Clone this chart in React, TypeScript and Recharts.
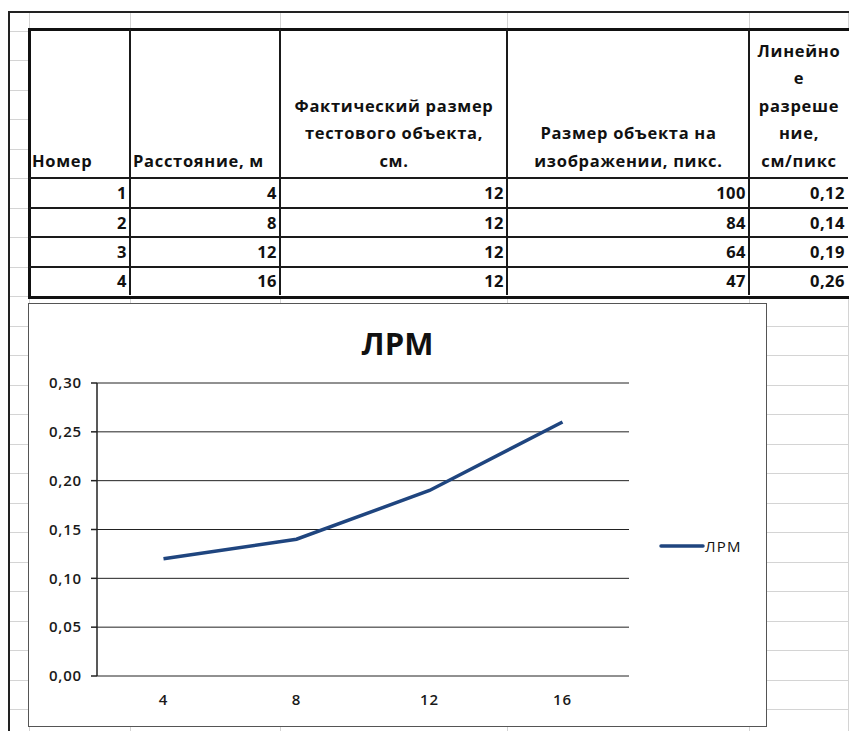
import React from 'react';
import { LineChart, Line, XAxis, YAxis, CartesianGrid, Legend } from 'recharts';

// table columns / rows
const numbers = [1, 2, 3, 4];
const distances = [4, 8, 12, 16];
const realSize = [12, 12, 12, 12];
const imageSize = [100, 84, 64, 47];
const resolution = [0.12, 0.14, 0.19, 0.26];

// chart axes
const yTicks = [0, 0.05, 0.1, 0.15, 0.2, 0.25, 0.3];
const xBounds = [2, 6, 10, 14, 18];
const seriesName = 'ЛРМ';

const chartData = distances.map((d, i) => ({ x: d, lrm: resolution[i] }));

const fmt = (v: number) => v.toFixed(2).replace('.', ',');

const FONT = '"Open Sans", "Noto Sans", sans-serif';
const LINE = '#1f457f';
const GRAY = '#d4d4d4';

const colX = [29, 130, 280, 507, 749, 848];
const rowY = [29, 178, 207.5, 237, 266.5, 295];

const headerLines: string[][] = [
  ['Номер'],
  ['Расстояние, м'],
  ['Фактический размер', 'тестового объекта,', 'см.'],
  ['Размер объекта на', 'изображении, пикс.'],
  ['Линейно', 'е', 'разреше', 'ние,', 'см/пикс'],
];

const SheetGrid = () => {
  const lines: React.ReactNode[] = [];
  // horizontal row lines of the sheet
  for (let k = -6; k < 19; k++) {
    const y = 178 + k * 29.5;
    if (y < 14 || y > 731) continue;
    lines.push(<div key={'h' + k} style={{ position: 'absolute', left: 9, top: y, width: 840, height: 1, background: GRAY }} />);
  }
  colX.forEach((x, i) => {
    lines.push(<div key={'v' + i} style={{ position: 'absolute', left: x, top: 12, width: 1, height: 719, background: GRAY }} />);
  });
  return <>{lines}</>;
};

const Table = () => {
  const cols = [numbers, distances, realSize, imageSize, resolution];
  const cells: React.ReactNode[] = [];
  headerLines.forEach((hl, c) => {
    const left = c < 2;
    cells.push(
      <div key={'hd' + c} style={{
        position: 'absolute', left: colX[c] + 3, top: rowY[0], width: colX[c + 1] - colX[c] - 5, height: rowY[1] - rowY[0] - 4,
        display: 'flex', flexDirection: 'column', justifyContent: 'flex-end', alignItems: left ? 'flex-start' : 'center',
        lineHeight: '27.5px', textAlign: left ? 'left' : 'center', whiteSpace: 'nowrap',
      }}>
        {hl.map((t, j) => <div key={j}>{t}</div>)}
      </div>
    );
  });
  numbers.forEach((_, r) => {
    cols.forEach((col, c) => {
      const v = col[r];
      cells.push(
        <div key={r + '-' + c} style={{
          position: 'absolute', left: colX[c], top: rowY[r + 1], width: colX[c + 1] - colX[c] - 3, height: rowY[r + 2] - rowY[r + 1],
          textAlign: 'right', lineHeight: (rowY[r + 2] - rowY[r + 1]) + 'px', letterSpacing: 0.5,
        }}>{c === 4 ? fmt(v) : v}</div>
      );
    });
  });
  colX.slice(1, 5).forEach((x, i) => {
    cells.push(<div key={'cv' + i} style={{ position: 'absolute', left: x - 1, top: rowY[0], width: 2, height: rowY[5] - rowY[0], background: '#1a1a1a' }} />);
  });
  rowY.slice(1, 5).forEach((y, i) => {
    cells.push(<div key={'ch' + i} style={{ position: 'absolute', left: colX[0], top: y - 1, width: colX[5] - colX[0], height: 2, background: '#1a1a1a' }} />);
  });
  return (
    <>
      <div style={{ position: 'absolute', left: colX[0] - 1, top: rowY[0] - 1, width: colX[5] - colX[0] - 1, height: rowY[5] - rowY[0] - 1, border: '3px solid #111', background: '#fff' }} />
      <div style={{ position: 'absolute', left: 0, top: 0, fontFamily: FONT, fontWeight: 700, fontSize: 16.5, letterSpacing: 0.7, color: '#111' }}>
        {cells}
      </div>
    </>
  );
};

const LegendContent = () => (
  <div style={{ display: 'flex', alignItems: 'center', fontFamily: FONT, fontSize: 15, letterSpacing: 1.2, color: '#111' }}>
    <svg width={46} height={8}>
      <line x1={2} y1={4} x2={44} y2={4} stroke={LINE} strokeWidth={3.5} strokeLinecap="round" />
    </svg>
    <span>{seriesName}</span>
  </div>
);

const tickStyle = { fill: '#1a1a1a', fontSize: 15, fontWeight: 600, fontFamily: FONT, letterSpacing: 0.8 };

export default function App() {
  return (
    <div style={{ position: 'absolute', left: 0, top: 0, width: 849, height: 731, background: '#fff', overflow: 'hidden', fontFamily: FONT }}>
      <SheetGrid />
      <div style={{ position: 'absolute', left: 8, top: 11, width: 841, height: 2, background: '#222' }} />
      <div style={{ position: 'absolute', left: 8, top: 11, width: 2, height: 720, background: '#222' }} />
      <Table />
      <div style={{ position: 'absolute', left: 28, top: 303, width: 737, height: 422, border: '1.5px solid #555', background: '#fff' }}>
        <div style={{ position: 'absolute', left: 0, top: 18, width: 737, textAlign: 'center', fontSize: 31, fontWeight: 700, color: '#111', paddingRight: 4 }}>{seriesName}</div>
        <LineChart width={737} height={422} data={chartData} margin={{ top: 79, right: 137, bottom: 20, left: 6 }}>
          <CartesianGrid vertical={false} stroke="#222" strokeWidth={1} />
          <XAxis xAxisId="marks" dataKey="x" type="number" domain={[2, 18]} ticks={xBounds} tick={false}
            height={0} axisLine={{ stroke: '#222', strokeWidth: 1.5 }} tickLine={{ stroke: '#222', strokeWidth: 1.5 }} tickSize={6} />
          <XAxis xAxisId="main" dataKey="x" type="number" domain={[2, 18]} ticks={distances} height={30}
            axisLine={false} tickLine={false} tickMargin={12}
            tick={tickStyle} />
          <YAxis domain={[0, 0.3]} ticks={yTicks} tickFormatter={fmt} width={62}
            axisLine={{ stroke: '#222', strokeWidth: 1.5 }} tickLine={{ stroke: '#222', strokeWidth: 1.5 }} tickSize={6} tickMargin={9}
            tick={tickStyle} />
          <Legend layout="vertical" align="center" verticalAlign="middle" content={<LegendContent />}
            wrapperStyle={{ left: 630, top: 232, width: 110 }} />
          <Line xAxisId="main" dataKey="lrm" name={seriesName} stroke={LINE} strokeWidth={3.5} dot={false}
            type="linear" isAnimationActive={false} />
        </LineChart>
      </div>
    </div>
  );
}
